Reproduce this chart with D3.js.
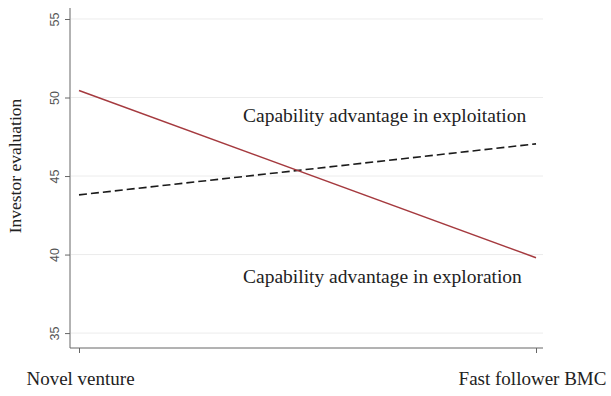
<!DOCTYPE html>
<html lang="en">
<head>
    <meta charset="UTF-8">
    <title>Investor evaluation</title>
    <script src="https://cdn.jsdelivr.net/npm/d3@7"></script>
    <style>
        body{
            margin: 0;
            background: white;
        }
        .yAxis text{
            font-family: "Liberation Sans", Arial, sans-serif;
            font-size: 12.5px;
            fill: #555;
        }
        .axis path, .axis line{
            stroke: #666;
            stroke-width: 1;
        }
        .xAxis text{
            font-family: "Liberation Serif", "Times New Roman", serif;
            font-size: 19px;
            fill: #222;
        }
        .grid line{
            stroke: #ececec;
            stroke-width: 1;
        }
        .label{
            font-family: "Liberation Serif", "Times New Roman", serif;
            font-size: 19.5px;
            fill: #222;
        }
        .title{
            font-family: "Liberation Serif", "Times New Roman", serif;
            font-size: 17.5px;
            fill: #222;
        }
    </style>
</head>
<body>
<svg id="main" width="611" height="396"></svg>
<script>
    const width = 611, height = 396
    const plot = {left: 70, right: 543, top: 8, bottom: 348}

    // data
    const categories = ['Novel venture', 'Fast follower BMC']
    const exploration = [50.45, 39.8]
    const exploitation = [43.8, 47.05]
    const seriesNames = ['Capability advantage in exploitation', 'Capability advantage in exploration']
    const yTicks = [35, 40, 45, 50, 55]

    const xScale = d3.scalePoint()
        .domain(categories)
        .range([79, 536])
    const yScale = d3.scaleLinear()
        .domain([34.05, 55.7])
        .range([plot.bottom, plot.top])

    const svg = d3.select('svg#main')

    // gridlines
    svg.append('g').attr('class', 'grid')
        .selectAll('line')
        .data(yTicks)
        .enter().append('line')
        .attr('x1', plot.left + 1)
        .attr('x2', plot.right)
        .attr('y1', d => yScale(d))
        .attr('y2', d => yScale(d))

    // y axis
    const yAxisGroup = svg.append('g')
        .attr('class', 'axis yAxis')
        .attr('transform', `translate(${plot.left},0)`)
        .call(d3.axisLeft(yScale).tickValues(yTicks).tickSize(5).tickSizeOuter(0))
    yAxisGroup.select('.domain').attr('d', `M0,${plot.top}V${plot.bottom}`)
    yAxisGroup.selectAll('.tick text')
        .attr('x', 0).attr('dy', 0).attr('y', 0)
        .attr('text-anchor', 'middle')
        .attr('transform', 'translate(-11,0) rotate(-90)')

    // x axis
    const xAxisGroup = svg.append('g')
        .attr('class', 'axis xAxis')
        .attr('transform', `translate(0,${plot.bottom})`)
        .call(d3.axisBottom(xScale).tickSize(5).tickSizeOuter(0).tickPadding(19))
    xAxisGroup.select('.domain').attr('d', `M${plot.left},0H${plot.right}`)
    // last label sits a bit left of its tick, as in the original
    xAxisGroup.selectAll('.tick text').attr('dx', (_, i) => i === 1 ? -4 : 1)

    // y title
    svg.append('text')
        .attr('class', 'title')
        .attr('transform', `translate(21,${(plot.top + plot.bottom) / 2 - 12}) rotate(-90)`)
        .attr('text-anchor', 'middle')
        .text('Investor evaluation')

    const line = d3.line()
        .x((_, i) => xScale(categories[i]))
        .y(d => yScale(d))

    svg.append('path')
        .datum(exploitation)
        .attr('d', line)
        .attr('fill', 'none')
        .attr('stroke', '#1a1a1a')
        .attr('stroke-width', 1.6)
        .attr('stroke-dasharray', '8,4')

    svg.append('path')
        .datum(exploration)
        .attr('d', line)
        .attr('fill', 'none')
        .attr('stroke', '#a53a3f')
        .attr('stroke-width', 1.5)

    // series labels
    svg.append('text')
        .attr('class', 'label')
        .attr('x', 243).attr('y', 122)
        .text(seriesNames[0])
    svg.append('text')
        .attr('class', 'label')
        .attr('x', 243).attr('y', 283)
        .text(seriesNames[1])
</script>
</body>
</html>
